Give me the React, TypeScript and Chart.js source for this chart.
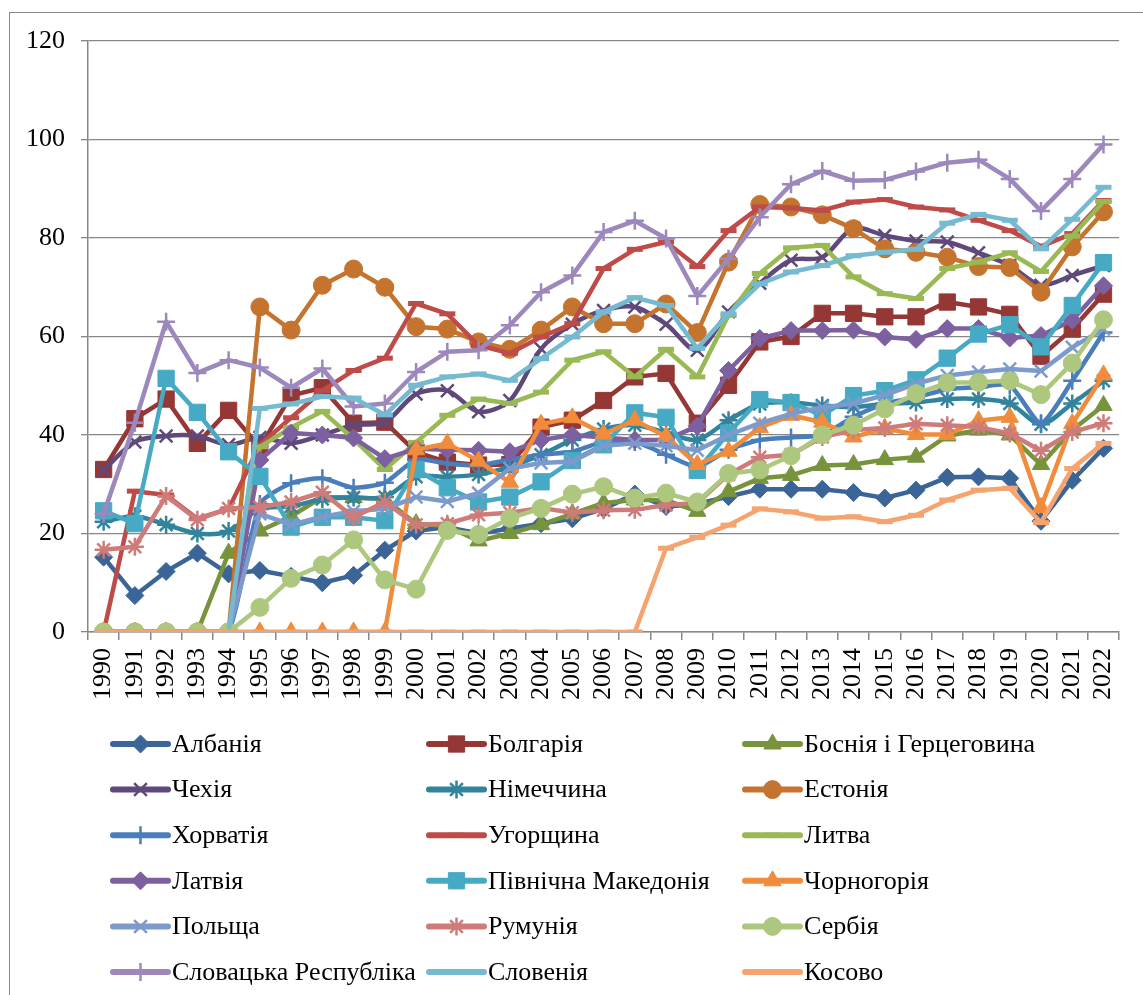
import React, { useEffect, useRef } from 'react';
import { Chart, registerables } from 'chart.js';
import { drawPoint } from 'chart.js/helpers';

Chart.register(...registerables);

const years = ['1990','1991','1992','1993','1994','1995','1996','1997','1998','1999','2000','2001','2002','2003','2004','2005','2006','2007','2008','2009','2010','2011','2012','2013','2014','2015','2016','2017','2018','2019','2020','2021','2022'];

const yTicks = [0, 20, 40, 60, 80, 100, 120];

const albania = [15.2,7.4,12.3,16,11.8,12.5,11.3,10,11.5,16.6,20.5,21.3,20,21,22,23,25,28,25.5,26,27.5,29,29,29,28.3,27.2,28.8,31.4,31.5,31.2,22.5,30.8,37.3];
const bulgaria = [33,43.3,47.3,38.3,45,37.5,48,49.6,42.4,42.6,36.5,34.5,33.9,34,41.6,43,47,51.8,52.5,42.4,50.1,58.9,60,64.7,64.7,64,64,67,66,64.5,56,61.5,68.6];
const bosnia = [0,0,0,0,16,20.5,23.5,27.4,27.3,27,22,21.5,18.5,20,21.8,24,26.2,26.8,26.8,24.5,28.5,31.2,31.8,33.8,34,35,35.5,39.8,41,40,34,41,46];
const czechia = [32.9,38.6,39.8,39.8,38,39.5,38.3,40,42,42.6,48.3,49,44.7,47,57.5,62.5,65.3,66,62.5,57.2,65,70.8,75.5,76.1,82,80.5,79.4,79.2,77,74.4,70.4,72.4,74.4];
const germany = [22.4,23.5,21.8,20,20.5,25,25.5,27,27.3,27.4,31.5,31.5,32,33.5,36,39,41.2,42,40.5,39,43,46.3,46.6,46,45.7,46.3,46.6,47.3,47.3,46.4,42.2,46.4,51];
const estonia = [0,0,0,0,0,66,61.3,70.4,73.7,70,62,61.5,58.9,57.4,61.3,66,62.6,62.6,66.6,60.8,75.1,86.8,86.3,84.7,81.9,77.8,77.1,76.1,74.2,74,69,78.2,85.3];
const croatia = [0,0,0,0,0,26,30.2,31.2,29.3,30.3,35,34.2,33.8,35,36,36.6,38.6,38.6,36,33.5,37,39,39.5,40,43.7,46.4,47.6,49.3,49.7,50.1,42.4,51,60.8];
const hungary = [0,28.6,27.8,23,25,38,43.5,49,53.1,55.6,66.7,64.6,58.2,56.6,59.9,62.6,73.8,77.7,79.2,74.2,81.5,86.3,86.1,85.6,87.3,87.8,86.3,85.7,83.6,81.5,78.3,80.9,87.6];
const lithuania = [0,0,0,0,0,37.6,41.5,44.8,39.2,33,38.5,44,47.3,46.4,48.7,55.2,56.9,51.8,57.4,51.8,64.3,72.8,78,78.5,72.1,68.7,67.7,73.8,75.1,77,73.2,80.4,87.4];
const latvia = [0,0,0,0,0,34.9,40.4,40,39.4,35.2,37.2,37,36.9,36.6,39,40,39.5,39,39,41.8,53.1,59.6,61.2,61.2,61.3,59.9,59.4,61.6,61.6,59.7,60.2,63.3,70.3];
const macedonia = [24.6,22,51.5,44.6,36.6,31.6,21.3,23.3,23.3,22.6,33,29.3,26.4,27.4,30.5,34.8,38,44.5,43.6,32.8,40.4,47.2,46.6,44,48,49,51.2,55.6,60.5,62.4,57.9,66.3,75];
const montenegro = [0,0,0,0,0,0,0,0,0,0,37,38.3,34.7,30.4,42.2,43.5,40.2,43,39.7,34,36.7,41.5,44,42.6,39.6,41.3,40.1,40.1,42.9,43.6,25.3,42.3,52.2];
const poland = [0,0,0,0,0,24,21.8,23.4,24.5,25,27.4,26.5,28.2,33.2,34.3,34.6,37.8,38.3,37.8,36.9,40,42.4,44.3,45.6,46.4,48.1,50.4,52.1,52.8,53.4,53,57.8,61.5];
const romania = [16.7,17.3,27.6,22.8,25.1,25.4,26.4,28.4,23.3,26.4,21.8,22,23.8,24.2,25.2,24.2,24.7,24.8,25.8,26.2,32,35.5,36,39.6,41,41.4,42.3,42,41.6,40.3,36.8,40.6,42.4];
const serbia = [0,0,0,0,0,5,10.9,13.6,18.7,10.6,8.7,20.6,19.8,23.1,25.1,28,29.5,27.2,28.2,26.4,32.2,32.9,35.8,40,42,45.3,48.4,50.6,50.7,51,48.2,54.6,63.4];
const slovakia = [24,42.5,63,52.6,55.2,53.7,49.6,53.5,45.8,46.4,52.8,56.9,57.2,62.3,69,72.4,81.2,83.5,79.9,68.2,75.8,84.2,90.9,93.6,91.6,91.8,93.5,95.3,95.9,92,85.5,92,99];
const slovenia = [0,0,0,0,0,45.4,46.3,47.8,47.5,44.1,50.1,51.8,52.4,51.1,55.5,59.9,65,67.9,66.3,57.6,64.6,70.7,73.1,74.4,76.4,77.1,77.7,83,84.8,83.6,77.8,83.8,90.3];
const kosovo = [0,0,0,0,0,0,0,0,0,0,0,0,0,0,0,0,0,0,17,19.2,21.7,25,24.4,23.1,23.4,22.4,23.7,26.8,28.8,29.2,22.2,33.2,38.3];

const seriesDefs = [
  { label: 'Албанія', data: albania, color: '#3B6596', style: 'rectRot', r: 9, bw: 1 },
  { label: 'Болгарія', data: bulgaria, color: '#953735', style: 'rect', r: 11.5, bw: 1 },
  { label: 'Боснія і Герцеговина', data: bosnia, color: '#77933C', style: 'triangle', r: 10, bw: 1 },
  { label: 'Чехія', data: czechia, color: '#5F497A', style: 'crossRot', r: 9, bw: 2.5, t: 0.3 },
  { label: 'Німеччина', data: germany, color: '#31849B', style: 'star', r: 9, bw: 2.5, t: 0.3 },
  { label: 'Естонія', data: estonia, color: '#C4742F', style: 'circle', r: 9, bw: 1 },
  { label: 'Хорватія', data: croatia, color: '#4A7EBB', style: 'cross', r: 9, bw: 2.5, t: 0.2 },
  { label: 'Угорщина', data: hungary, color: '#BE4B48', style: 'line', r: 8, bw: 5 },
  { label: 'Литва', data: lithuania, color: '#98B954', style: 'line', r: 8, bw: 5 },
  { label: 'Латвія', data: latvia, color: '#7D60A0', style: 'rectRot', r: 9, bw: 1 },
  { label: 'Північна Македонія', data: macedonia, color: '#46AAC5', style: 'rect', r: 11.5, bw: 1 },
  { label: 'Чорногорія', data: montenegro, color: '#F08C3C', style: 'triangle', r: 10, bw: 1 },
  { label: 'Польща', data: poland, color: '#7C9ACB', style: 'crossRot', r: 9, bw: 2.5 },
  { label: 'Румунія', data: romania, color: '#CF7B79', style: 'star', r: 9, bw: 2.5 },
  { label: 'Сербія', data: serbia, color: '#ADC87E', style: 'circle', r: 9, bw: 1 },
  { label: 'Словацька Республіка', data: slovakia, color: '#9C88BC', style: 'cross', r: 9, bw: 2.5 },
  { label: 'Словенія', data: slovenia, color: '#75BAD0', style: 'line', r: 8, bw: 5 },
  { label: 'Косово', data: kosovo, color: '#F5A470', style: 'line', r: 8, bw: 5 },
];

const FONT = "'Liberation Serif', 'Times New Roman', Tinos, 'DejaVu Serif', serif";

const gridLegend = {
  id: 'gridLegend',
  afterDraw(chart: any) {
    const ctx = chart.ctx;
    chart.data.datasets.forEach((ds: any, i: number) => {
      const col = i % 3;
      const row = Math.floor(i / 3);
      const x0 = 113 + col * 316;
      const y = 744 + row * 45.6;
      ctx.save();
      ctx.strokeStyle = ds.borderColor;
      ctx.lineWidth = 6;
      ctx.lineCap = 'round';
      ctx.beginPath();
      ctx.moveTo(x0, y);
      ctx.lineTo(x0 + 55, y);
      ctx.stroke();
      ctx.fillStyle = ds.pointBackgroundColor;
      ctx.strokeStyle = ds.pointBorderColor;
      ctx.lineWidth = ds.pointBorderWidth;
      ctx.lineCap = 'butt';
      drawPoint(ctx, { pointStyle: ds.pointStyle, radius: ds.pointRadius, borderWidth: ds.pointBorderWidth, rotation: 0 }, x0 + 27.5, y);
      ctx.fillStyle = '#000';
      ctx.font = '26px ' + FONT;
      ctx.textBaseline = 'middle';
      ctx.textAlign = 'left';
      ctx.fillText(ds.label, x0 + 59, y + 1);
      ctx.restore();
    });
  },
};

export default function App() {
  const ref = useRef<HTMLCanvasElement>(null);
  useEffect(() => {
    let chart: any = null;
    let cancelled = false;
    const build = () => {
      if (cancelled || !ref.current) return;
      const n = seriesDefs.length;
      chart = new Chart(ref.current, {
        type: 'line',
        data: {
          labels: years,
          datasets: seriesDefs.map((s, i) => ({
            label: s.label,
            data: s.data,
            borderColor: s.color,
            backgroundColor: s.color,
            borderWidth: 4.5,
            tension: s.t || 0,
            borderJoinStyle: 'round',
            borderCapStyle: 'round',
            pointStyle: s.style,
            pointRadius: s.r,
            pointHoverRadius: s.r,
            pointBackgroundColor: s.color,
            pointBorderColor: s.color,
            pointBorderWidth: s.bw,
            order: n - i,
            fill: false,
          })) as any,
        },
        options: {
          responsive: false,
          animation: false,
          events: [],
          layout: { padding: { left: 0, top: 41, right: 20, bottom: 283 } },
          plugins: { legend: { display: false }, tooltip: { enabled: false } },
          scales: {
            x: {
              type: 'category',
              offset: true,
              grid: { display: true, drawOnChartArea: false, drawTicks: true, tickLength: 8, offset: true, color: '#878787', lineWidth: 1.5 },
              border: { display: true, color: '#878787', width: 1.5 },
              ticks: { autoSkip: false, maxRotation: 90, minRotation: 90, padding: 8, color: '#000', font: { family: FONT, size: 26 } },
              afterFit: (s: any) => { s.height = 80; },
            },
            y: {
              min: 0,
              max: 120,
              afterBuildTicks: (s: any) => { s.ticks = yTicks.map((v) => ({ value: v })); },
              grid: { color: '#878787', lineWidth: 1.3, tickLength: 7, drawTicks: true },
              border: { display: true, color: '#878787', width: 1.5 },
              ticks: { padding: 16, color: '#000', font: { family: FONT, size: 26 } },
              afterFit: (s: any) => { s.width = 88; },
            },
          },
        },
        plugins: [gridLegend],
      });
    };
    const fonts: any = (document as any).fonts;
    if (fonts && fonts.load) {
      Promise.all([
        fonts.load("26px 'Liberation Serif'", 'Албанія 2022'),
        fonts.load("26px 'Times New Roman'", 'Албанія 2022'),
      ]).catch(() => null).then(build);
    } else {
      build();
    }
    return () => {
      cancelled = true;
      if (chart) chart.destroy();
    };
  }, []);

  return (
    <div style={{ position: 'absolute', left: 0, top: 0, width: 1143, height: 995, background: '#fff' }}>
      <div style={{ position: 'absolute', left: 0, top: 0, fontFamily: FONT, fontSize: 26, color: 'transparent', pointerEvents: 'none' }}>Албанія 0123456789</div>
      <div style={{ position: 'absolute', left: 9, top: 12, width: 1134, height: 983, borderLeft: '1.5px solid #8a8a8a', borderTop: '1.5px solid #8a8a8a', boxSizing: 'border-box' }} />
      <canvas ref={ref} width={1143} height={995} style={{ position: 'absolute', left: 0, top: 0, width: 1143, height: 995 }} />
    </div>
  );
}
